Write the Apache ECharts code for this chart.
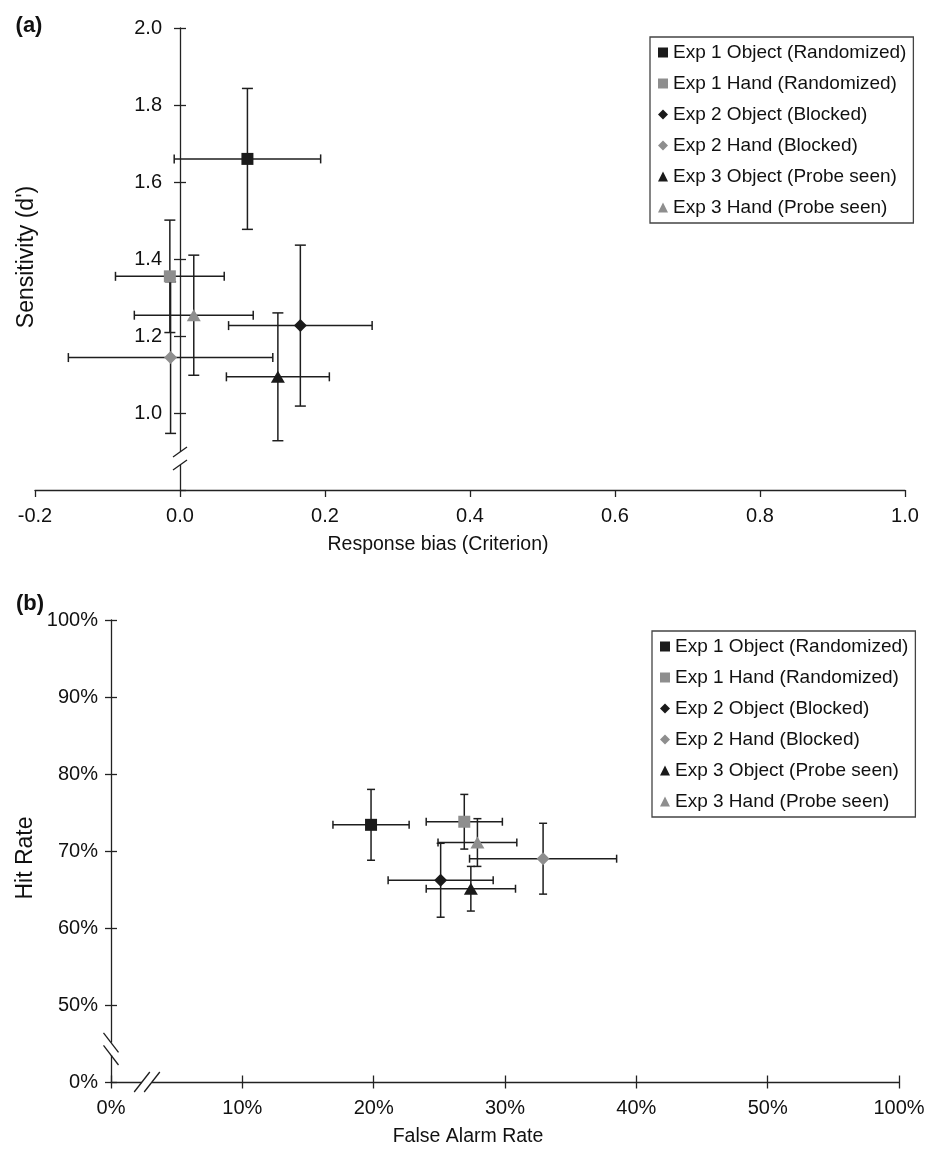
<!DOCTYPE html>
<html>
<head>
<meta charset="utf-8">
<script src="https://cdn.jsdelivr.net/npm/echarts@6/dist/echarts.min.js"></script>
<style>
    html, body {margin: 0; padding: 0; background: #fff;}
    #chart {width: 934px; height: 1155px;}
</style>
</head>
<body>
<div id="chart"></div>
<script>
// shared legend names / markers
const names = ['Exp 1 Object (Randomized)', 'Exp 1 Hand (Randomized)', 'Exp 2 Object (Blocked)',
    'Exp 2 Hand (Blocked)', 'Exp 3 Object (Probe seen)', 'Exp 3 Hand (Probe seen)'];
const symbols = ['rect', 'rect', 'diamond', 'diamond', 'triangle', 'triangle'];
const colors = ['#1a1a1a', '#8e8e8e', '#1a1a1a', '#8e8e8e', '#1a1a1a', '#8e8e8e'];

// panel (a): criterion vs d'
const bias = [0.093, -0.014, 0.166, -0.013, 0.135, 0.019];
const biasErr = [0.101, 0.075, 0.099, 0.141, 0.071, 0.082];
const dprime = [1.66, 1.355, 1.227, 1.144, 1.094, 1.254];
const dprimeErr = [0.183, 0.146, 0.209, 0.197, 0.166, 0.156];

// panel (b): false alarm rate vs hit rate (%)
const falseAlarm = [19.8, 26.9, 25.1, 32.9, 27.4, 27.9];
const falseAlarmErr = [2.9, 2.9, 4.0, 5.6, 3.4, 3.0];
const hitRate = [73.4, 73.8, 66.2, 69.0, 65.1, 71.1];
const hitRateErr = [4.6, 3.55, 4.8, 4.6, 2.9, 3.1];

const FONT = '"Liberation Sans", Arial, sans-serif';
const INK = '#1e1e1e';
const axisStyle = {color: '#222', width: 1.3};

// axis titles look like a narrow face; use it if the machine has one
function hasFont(name) {
    let ctx = document.createElement('canvas').getContext('2d');
    let t = 'mmmmmmmmmwwwlli';
    ctx.font = '60px monospace';
    let w = ctx.measureText(t).width;
    ctx.font = '60px "' + name + '", monospace';
    return ctx.measureText(t).width !== w;
}
const narrow = hasFont('Liberation Sans Narrow');
const TITLE_FONT = narrow ? '22px "Liberation Sans Narrow", ' + FONT : '19.5px ' + FONT;

function errRender(capV, capH) {
    return function (params, api) {
        let x = api.value(0), y = api.value(1), ex = api.value(2), ey = api.value(3);
        let c = api.coord([x, y]);
        let l = api.coord([x - ex, y]);
        let r = api.coord([x + ex, y]);
        let t = api.coord([x, y + ey]);
        let b = api.coord([x, y - ey]);
        let style = {stroke: INK, lineWidth: 1.5};
        let line = (x1, y1, x2, y2) => ({type: 'line', shape: {x1, y1, x2, y2}, style: style});
        return {
            type: 'group',
            children: [
                line(l[0], c[1], r[0], c[1]),
                line(l[0], c[1] - capH / 2, l[0], c[1] + capH / 2),
                line(r[0], c[1] - capH / 2, r[0], c[1] + capH / 2),
                line(c[0], t[1], c[0], b[1]),
                line(c[0] - capV / 2, t[1], c[0] + capV / 2, t[1]),
                line(c[0] - capV / 2, b[1], c[0] + capV / 2, b[1])
            ]
        };
    };
}

// axis break: two parallel slashes with a gap in the axis line
function breakRender(dx, dy, sx, sy, vertical) {
    return function (params, api) {
        let c = api.coord([api.value(0), api.value(1)]);
        let style = {stroke: INK, lineWidth: 1.3};
        let gap = vertical
            ? {x: c[0] - 3, y: c[1] - sy, width: 6, height: sy * 2}
            : {x: c[0] - sx, y: c[1] - 3, width: sx * 2, height: 6};
        return {
            type: 'group',
            children: [
                {type: 'rect', shape: gap, style: {fill: '#fff'}},
                {type: 'line', shape: {x1: c[0] - sx - dx, y1: c[1] - sy - dy, x2: c[0] - sx + dx, y2: c[1] - sy + dy}, style: style},
                {type: 'line', shape: {x1: c[0] + sx - dx, y1: c[1] + sy - dy, x2: c[0] + sx + dx, y2: c[1] + sy + dy}, style: style}
            ]
        };
    };
}

const fmt1 = v => (Math.abs(v) < 1e-9 ? 0 : v).toFixed(1);
const labelStyle = {fontFamily: FONT, fontSize: 20, color: '#111'};
const markerSize = {rect: 12, diamond: 13, triangle: [14, 12]};

let series = [];
names.forEach((name, i) => {
    let size = markerSize[symbols[i]];
    series.push({
        name: name, type: 'scatter', xAxisIndex: 0, yAxisIndex: 0, z: 5,
        symbol: symbols[i], symbolSize: size, itemStyle: {color: colors[i], opacity: 1},
        data: [[bias[i], dprime[i]]]
    });
    series.push({
        name: name, type: 'scatter', xAxisIndex: 2, yAxisIndex: 3, z: 5,
        symbol: symbols[i], symbolSize: size, itemStyle: {color: colors[i], opacity: 1},
        data: [[falseAlarm[i], hitRate[i]]]
    });
});
series.push({
    name: 'errA', type: 'custom', xAxisIndex: 0, yAxisIndex: 0, z: 3, silent: true,
    renderItem: errRender(11, 9), encode: {x: 0, y: 1},
    data: names.map((n, i) => [bias[i], dprime[i], biasErr[i], dprimeErr[i]])
});
series.push({
    name: 'errB', type: 'custom', xAxisIndex: 2, yAxisIndex: 3, z: 3, silent: true,
    renderItem: errRender(8, 8), encode: {x: 0, y: 1},
    data: names.map((n, i) => [falseAlarm[i], hitRate[i], falseAlarmErr[i], hitRateErr[i]])
});
series.push({
    name: 'breakA', type: 'custom', xAxisIndex: 0, yAxisIndex: 0, z: 4, silent: true,
    renderItem: breakRender(7, -5, 0, 6.5, true), encode: {x: 0, y: 1},
    data: [[0, 0.882]]
});
series.push({
    name: 'breakBy', type: 'custom', xAxisIndex: 2, yAxisIndex: 3, z: 4, silent: true,
    renderItem: breakRender(7.5, 9.8, 0, 6.3, true), encode: {x: 0, y: 1},
    data: [[0, 44.3]]
});
series.push({
    name: 'breakBx', type: 'custom', xAxisIndex: 2, yAxisIndex: 3, z: 4, silent: true,
    renderItem: breakRender(7.8, -10, 5, 0, false), encode: {x: 0, y: 1},
    data: [[2.74, 40]]
});

function legendAt(left, top) {
    return {
        orient: 'vertical', left: left, top: top,
        padding: [6, 7, 6, 8], itemGap: 12, itemWidth: 10, itemHeight: 10,
        borderColor: '#444', borderWidth: 1.3, selectedMode: false,
        textStyle: {fontFamily: FONT, fontSize: 19, lineHeight: 19, color: '#111'},
        data: names.map((n, i) => ({name: n, icon: symbols[i]}))
    };
}

let myChart = echarts.init(document.getElementById('chart'), null, {renderer: 'canvas'});
let option = {
    backgroundColor: '#fff',
    animation: false,
    grid: [
        // (a) plot area, (b) plot area, (a) y axis sitting at criterion = 0
        {left: 35, right: 29, top: 28, bottom: 665, containLabel: false, outerBoundsMode: 'none'},
        {left: 111, right: 35, top: 620, bottom: 73, containLabel: false, outerBoundsMode: 'none'},
        {left: 180, right: 29, top: 28, bottom: 665, containLabel: false, outerBoundsMode: 'none'}
    ],
    legend: [legendAt(650, 37), legendAt(652, 631)],
    xAxis: [
        {
            gridIndex: 0, type: 'value', min: -0.2, max: 1.0, interval: 0.2,
            axisLine: {onZero: false, lineStyle: axisStyle}, axisTick: {length: 7, lineStyle: axisStyle},
            axisLabel: Object.assign({margin: 16, formatter: fmt1}, labelStyle),
            splitLine: {show: false}
        },
        {gridIndex: 2, type: 'value', min: 0, max: 1, show: false},
        {
            gridIndex: 1, type: 'value', min: 0, max: 60, interval: 10, position: 'bottom',
            axisLine: {onZero: false, lineStyle: axisStyle}, axisTick: {length: 6.5, lineStyle: axisStyle},
            axisLabel: Object.assign({margin: 16, formatter: v => v === 60 ? '100%' : v + '%'}, labelStyle),
            splitLine: {show: false}
        },
        {
            gridIndex: 1, type: 'value', min: 0, max: 60, interval: 10, position: 'bottom',
            axisLine: {show: false, onZero: false}, axisTick: {inside: true, length: 6.5, lineStyle: axisStyle},
            axisLabel: {show: false}, splitLine: {show: false}
        }
    ],
    yAxis: [
        {gridIndex: 0, type: 'value', min: 0.8, max: 2.0, interval: 0.2, show: false},
        {
            gridIndex: 2, type: 'value', min: 0.8, max: 2.0, interval: 0.2, position: 'left',
            axisLine: {onZero: false, lineStyle: axisStyle},
            axisTick: {length: 6, lineStyle: axisStyle},
            axisLabel: Object.assign({margin: 18, showMinLabel: false, formatter: fmt1}, labelStyle),
            splitLine: {show: false}
        },
        {
            gridIndex: 2, type: 'value', min: 0.8, max: 2.0, interval: 0.2, position: 'left',
            axisLine: {show: false, onZero: false},
            axisTick: {inside: true, length: 6, lineStyle: axisStyle},
            axisLabel: {show: false}, splitLine: {show: false}
        },
        {
            gridIndex: 1, type: 'value', min: 40, max: 100, interval: 10, position: 'left',
            axisLine: {onZero: false, lineStyle: axisStyle},
            axisTick: {length: 6, lineStyle: axisStyle},
            axisLabel: Object.assign({margin: 13, formatter: v => v === 40 ? '0%' : v + '%'}, labelStyle),
            splitLine: {show: false}
        },
        {
            gridIndex: 1, type: 'value', min: 40, max: 100, interval: 10, position: 'left',
            axisLine: {show: false, onZero: false},
            axisTick: {inside: true, length: 6, lineStyle: axisStyle},
            axisLabel: {show: false}, splitLine: {show: false}
        }
    ],
    graphic: [
        {type: 'text', x: 29, y: 26, style: {text: '(a)', font: 'bold 22px ' + FONT, fill: '#111', align: 'center', verticalAlign: 'middle'}},
        {type: 'text', x: 30, y: 604, style: {text: '(b)', font: 'bold 22px ' + FONT, fill: '#111', align: 'center', verticalAlign: 'middle'}},
        {type: 'text', x: 438, y: 545, style: {text: 'Response bias (Criterion)', font: TITLE_FONT, fill: '#111', align: 'center', verticalAlign: 'middle'}},
        {type: 'text', x: 468, y: 1137, style: {text: 'False Alarm Rate', font: TITLE_FONT, fill: '#111', align: 'center', verticalAlign: 'middle'}},
        {type: 'text', x: 27, y: 257, rotation: Math.PI / 2, style: {text: "Sensitivity (d')", font: '23px ' + FONT, fill: '#111', align: 'center', verticalAlign: 'middle'}},
        {type: 'text', x: 26, y: 858, rotation: Math.PI / 2, style: {text: 'Hit Rate', font: '23px ' + FONT, fill: '#111', align: 'center', verticalAlign: 'middle'}}
    ],
    series: series
};
myChart.setOption(option);
</script>
</body>
</html>
